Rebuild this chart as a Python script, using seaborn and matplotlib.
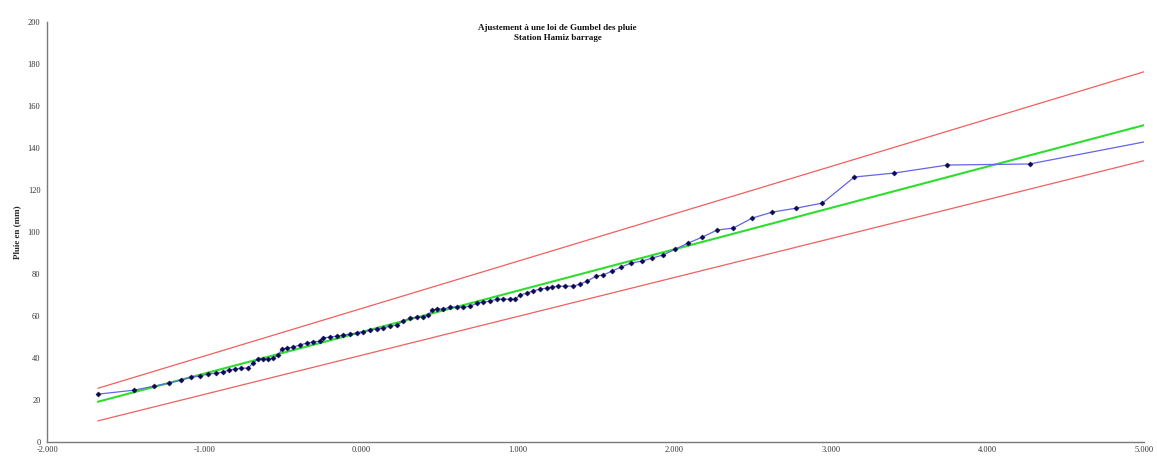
import matplotlib
matplotlib.use("Agg")
import matplotlib.pyplot as plt
import numpy as np
import pandas as pd
import seaborn as sns
from matplotlib.ticker import FuncFormatter, MultipleLocator

u_obs = [-1.678, -1.448, -1.320, -1.224, -1.148, -1.084, -1.026, -0.975, -0.924, -0.879,
         -0.841, -0.803, -0.764, -0.720, -0.688, -0.656, -0.624, -0.592, -0.560, -0.528,
         -0.503, -0.471, -0.432, -0.388, -0.343, -0.305, -0.260, -0.241, -0.196, -0.151,
         -0.113, -0.068, -0.024, 0.015, 0.059, 0.104, 0.142, 0.187, 0.232, 0.270,
         0.315, 0.360, 0.398, 0.430, 0.455, 0.487, 0.526, 0.570, 0.615, 0.653,
         0.698, 0.743, 0.781, 0.826, 0.870, 0.909, 0.953, 0.985, 1.017, 1.062,
         1.100, 1.145, 1.190, 1.222, 1.260, 1.305, 1.356, 1.400, 1.445, 1.503,
         1.547, 1.605, 1.662, 1.726, 1.796, 1.860, 1.930, 2.007, 2.090, 2.179,
         2.275, 2.377, 2.499, 2.626, 2.780, 2.946, 3.150, 3.405, 3.744, 4.268]
p_obs = [22.8, 24.7, 26.6, 28.1, 29.5, 30.9, 31.4, 32.4, 32.8, 33.3,
         34.3, 34.7, 35.2, 35.2, 37.6, 39.5, 39.5, 39.5, 40.0, 41.4,
         44.3, 44.7, 45.2, 46.2, 47.1, 47.6, 48.1, 49.5, 50.0, 50.4,
         50.9, 51.4, 51.9, 52.3, 53.3, 53.8, 54.2, 55.2, 55.7, 57.6,
         59.0, 59.5, 59.5, 60.4, 62.8, 63.3, 63.3, 64.2, 64.2, 64.2,
         64.7, 66.1, 66.6, 67.1, 68.0, 68.0, 68.0, 68.0, 70.0, 70.9,
         71.9, 72.8, 73.3, 73.8, 74.2, 74.2, 74.2, 75.2, 76.6, 79.0,
         79.5, 81.4, 83.3, 85.2, 86.1, 87.6, 89.0, 91.8, 94.7, 97.5,
         100.9, 101.8, 106.6, 109.4, 111.3, 113.7, 126.1, 128.0, 131.8, 132.3]
# the observed line runs on to the right edge without a marker
u_obs_end = 5.0
p_obs_end = 142.8

# fitted Gumbel line and confidence bounds
u_fit = [-1.678, 5.0]
p_fit = [19.2, 150.8]
p_upper = [25.6, 176.2]
p_lower = [10.1, 133.9]

obs = pd.DataFrame({"u": u_obs + [u_obs_end], "p": p_obs + [p_obs_end]})
pts = pd.DataFrame({"u": u_obs, "p": p_obs})
fit = pd.DataFrame({"u": u_fit, "fit": p_fit, "upper": p_upper, "lower": p_lower})

sns.set_theme(style="white")
plt.rcParams["font.family"] = ["Liberation Serif", "DejaVu Serif"]

fig = plt.figure(figsize=(11.57, 4.61), dpi=100)
ax = fig.add_axes([0.041, 0.041, 0.948, 0.912])

sns.lineplot(data=fit, x="u", y="upper", color="#f06060", lw=0.9, ax=ax)
sns.lineplot(data=fit, x="u", y="lower", color="#f06060", lw=0.9, ax=ax)
sns.lineplot(data=fit, x="u", y="fit", color="#2ede2e", lw=1.5, ax=ax)
sns.lineplot(data=obs, x="u", y="p", sort=False, color="#6464e6", lw=0.9, ax=ax)
sns.scatterplot(data=pts, x="u", y="p", marker="D", s=7, color="#0a0a50",
                edgecolor="#0a0a50", linewidth=0.3, zorder=5, ax=ax)

ax.set_xlim(-2, 5)
ax.set_ylim(0, 200)
ax.xaxis.set_major_locator(MultipleLocator(1))
ax.yaxis.set_major_locator(MultipleLocator(20))
ax.xaxis.set_major_formatter(FuncFormatter(lambda v, _: f"{v:.3f}"))
ax.set_xlabel("")
ax.set_ylabel("Pluie en (mm)", fontsize=6.5, fontweight="bold", labelpad=5)

for side in ["top", "right"]:
    ax.spines[side].set_visible(False)
for side in ["left", "bottom"]:
    ax.spines[side].set_color("#7a7a7a")
    ax.spines[side].set_linewidth(1.0)
ax.tick_params(axis="both", direction="inout", length=4, width=0.8,
               color="#555555", labelsize=6, labelcolor="#333333", pad=3)
ax.tick_params(axis="x", pad=1)

fig.text(0.482, 0.928, "Ajustement à une loi de Gumbel des pluie\nStation Hamiz barrage",
         ha="center", va="center", fontsize=6.5, fontweight="bold",
         linespacing=1.25, color="#111111")

fig.savefig("out.png", dpi=100)
